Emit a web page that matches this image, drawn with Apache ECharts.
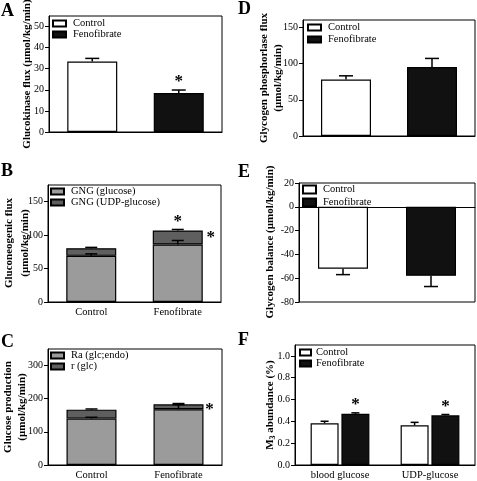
<!DOCTYPE html>
<html><head><meta charset="utf-8">
<script src="https://cdn.jsdelivr.net/npm/echarts@6/dist/echarts.min.js"></script>
<style>html,body{margin:0;padding:0;background:#fff}#c{width:477px;height:481px}</style>
</head><body><div id="c"></div>
<script>
// ---------- DATA ----------
const groups = ['Control', 'Fenofibrate'];
// A: glucokinase flux
const gkMean = [33.4, 18.5];
const gkErr = [1.5, 1.4];
const yTicksA = [0, 10, 20, 30, 40, 50];
// B: gluconeogenic flux (stacked)
const gngGlucose = [69, 86];
const gngGlucoseErr = [3, 6];
const gngUdp = [11.5, 21];
const gngUdpErr = [1.2, 1.5];
const yTicksB = [0, 50, 100, 150];
// C: glucose production (stacked)
const raEndo = [140, 168];
const raEndoErr = [4, 14];
const rGlc = [27, 15];
const rGlcErr = [2, 2.5];
const yTicksC = [0, 100, 200, 300];
// D: glycogen phosphorylase flux
const gpMean = [78, 95];
const gpErr = [5, 12];
const yTicksD = [0, 50, 100, 150];
// E: glycogen balance
const gbMean = [-52, -58];
const gbErr = [-5, -9];
const yTicksE = [-80, -60, -40, -20, 0, 20];
// F: M3 abundance
const fCats = ['blood glucose', 'UDP-glucose'];
const m3Control = [0.383, 0.364];
const m3ControlErr = [0.018, 0.027];
const m3Feno = [0.470, 0.455];
const m3FenoErr = [0.008, 0.008];
const yTicksF = [0, 0.2, 0.4, 0.6, 0.8, 1.0];
// significance stars [category index, value]
const starsA = [[1, 20]];
const starsBTop = [[1, 108.5]];
const starsBSide = [[1, 96]];
const starsCSide = [[1, 168]];
const starsF = [[0, 0.478], [1, 0.463]];

// ---------- STYLE / HELPERS ----------
const FONT = 'Liberation Serif';
const WHITE = '#ffffff', BLACK = '#111111', LGRAY = '#9b9b9b', DGRAY = '#5f5f5f';

function pick(arr, i) { return arr.map((v, k) => k === i ? v : '-'); }

function errRender(capHalf, dx) {
  return function (params, api) {
    const c = api.value(0), v = api.value(1), e = api.value(2);
    const p0 = api.coord([c, v]);
    const p1 = api.coord([c, v + e]);
    const x = p0[0] + dx;
    const st = { stroke: '#000', lineWidth: 1.5 };
    return { type: 'group', children: [
      { type: 'line', shape: { x1: x, y1: p0[1], x2: x, y2: p1[1] }, style: st },
      { type: 'line', shape: { x1: x - capHalf, y1: p1[1], x2: x + capHalf, y2: p1[1] }, style: st }
    ] };
  };
}
function errSeries(idx, base, err, capHalf, dx) {
  return { type: 'custom', xAxisIndex: idx, yAxisIndex: idx, clip: false, z: 5, silent: true,
    renderItem: errRender(capHalf, dx || 0),
    encode: { x: 0, y: 1 },
    data: base.map((v, i) => [i, v, err[i]]) };
}
function starSeries(idx, pts, dx, dy) {
  return { type: 'custom', xAxisIndex: idx, yAxisIndex: idx, clip: false, z: 6, silent: true,
    encode: { x: 0, y: 1 },
    renderItem: function (params, api) {
      const p = api.coord([api.value(0), api.value(1)]);
      return { type: 'text', x: p[0] + dx, y: p[1] + dy,
        style: { text: '*', font: 'bold 17px ' + FONT, fill: '#000', textAlign: 'center', textVerticalAlign: 'middle' } };
    },
    data: pts };
}
function sumArr(a, b) { return a.map((v, i) => v + b[i]); }

const grids = [
  { left: 49, top: 16, width: 173, height: 116 },
  { left: 48, top: 185, width: 173, height: 117 },
  { left: 48, top: 349, width: 174, height: 116 },
  { left: 303, top: 20, width: 172, height: 116 },
  { left: 299, top: 183, width: 176, height: 119 },
  { left: 295, top: 345, width: 180, height: 121 }
].map(g => Object.assign({ show: true, borderColor: '#000', borderWidth: 1, backgroundColor: 'transparent', containLabel: false }, g));

function xAx(idx, cats, showLabels) {
  return { type: 'category', gridIndex: idx, data: cats,
    axisLine: { show: true, lineStyle: { color: '#000', width: 1 } },
    axisTick: { show: false },
    axisLabel: { show: showLabels, color: '#000', fontFamily: FONT, fontSize: 10.5, margin: 5 } };
}
function yAx(idx, min, max, ticks, fmt) {
  return { type: 'value', gridIndex: idx, min: min, max: max,
    splitLine: { show: false },
    axisLine: { show: true, lineStyle: { color: '#000', width: 1 } },
    axisTick: { show: true, length: 4, inside: false, customValues: ticks, lineStyle: { color: '#000' } },
    axisLabel: { color: '#000', fontFamily: FONT, fontSize: 10, margin: 5, customValues: ticks,
      formatter: fmt || (v => String(v)) } };
}

const barBase = { type: 'bar', barWidth: 50, barGap: '-100%' };
const bStyle = c => ({ color: c, borderColor: '#000', borderWidth: 1.2 });

const legendBase = { orient: 'vertical', padding: 0, itemWidth: 13, itemHeight: 6, itemGap: 0,
  textStyle: { fontFamily: FONT, fontSize: 10.5, color: '#000', lineHeight: 10, padding: [0, 0, 0, 2] },
  icon: 'rect', selectedMode: false };

// axis titles (rotated) : [text, centerX, centerY]
const NAMEFONT = 'bold 11px ' + FONT;
const axisTitles = [
  ['Glucokinase flux (\u03bcmol/kg/min)', 27, 74],
  ['Gluconeogenic flux', 9, 243], ['(\u03bcmol/kg/min)', 25.5, 243],
  ['Glucose production', 8, 407], ['(\u03bcmol/kg/min)', 22.5, 407],
  ['Glycogen phosphorlase flux', 264.5, 78], ['(\u03bcmol/kg/min)', 278.5, 78],
  ['Glycogen balance (\u03bcmol/kg/min)', 270, 242]
];

const option = {
  animation: false,
  backgroundColor: '#fff',
  grid: grids,
  xAxis: [
    xAx(0, groups, false), xAx(1, groups, true), xAx(2, groups, true),
    xAx(3, groups, false), xAx(4, groups, false), xAx(5, fCats, true)
  ],
  yAxis: [
    yAx(0, 0, 55, yTicksA),
    yAx(1, 0, 175, yTicksB),
    yAx(2, 0, 350, yTicksC),
    yAx(3, 0, 160, yTicksD),
    yAx(4, -80, 20, yTicksE),
    yAx(5, 0, 1.1, yTicksF, v => v.toFixed(1))
  ],
  legend: [
    Object.assign({}, legendBase, { left: 52, top: 18, data: ['Control', 'Fenofibrate'] }),
    Object.assign({}, legendBase, { left: 50, top: 186, data: ['GNG (glucose)', 'GNG (UDP-glucose)'] }),
    Object.assign({}, legendBase, { left: 50, top: 350, data: ['Ra (glc;endo)', 'r (glc)'] }),
    Object.assign({}, legendBase, { left: 307, top: 22, itemGap: 1, data: ['Control', 'Fenofibrate'] }),
    Object.assign({}, legendBase, { left: 302, top: 184, itemHeight: 8, itemGap: 2, data: ['Control', 'Fenofibrate'] }),
    Object.assign({}, legendBase, { left: 299, top: 347, itemWidth: 11, textStyle: Object.assign({}, legendBase.textStyle, { padding: [0, 0, 0, 0] }), data: ['Control', 'Fenofibrate'] })
  ],
  graphic: [
    ['A', 1, 2], ['B', 1, 162], ['C', 1, 333], ['D', 238, 0], ['E', 238, 163], ['F', 238, 331]
  ].map(t => ({ type: 'text', left: t[1], top: t[2],
    style: { text: t[0], font: 'bold 18px ' + FONT, fill: '#000' } }))
  .concat(axisTitles.map(t => ({ type: 'text', x: t[1], y: t[2], rotation: Math.PI / 2,
    style: { text: t[0], font: NAMEFONT, fill: '#000', textAlign: 'center', textVerticalAlign: 'middle' } })))
  .concat([{ type: 'text', x: 270, y: 405, rotation: Math.PI / 2,
    style: { text: '{m|M}{s|3}{m| abundance (%)}', fill: '#000', textAlign: 'center', textVerticalAlign: 'middle',
      rich: { m: { font: NAMEFONT, lineHeight: 14 },
              s: { font: 'bold 8px ' + FONT, lineHeight: 14, verticalAlign: 'bottom', padding: [5, 0, 0, 0] } } } }]),
  series: [
    // A
    Object.assign({}, barBase, { name: 'Control', xAxisIndex: 0, yAxisIndex: 0, itemStyle: bStyle(WHITE), data: pick(gkMean, 0) }),
    Object.assign({}, barBase, { name: 'Fenofibrate', xAxisIndex: 0, yAxisIndex: 0, itemStyle: bStyle(BLACK), data: pick(gkMean, 1) }),
    errSeries(0, gkMean, gkErr, 7),
    starSeries(0, starsA, 0, -8),
    // B
    Object.assign({}, barBase, { name: 'GNG (glucose)', stack: 'b', xAxisIndex: 1, yAxisIndex: 1, itemStyle: bStyle(LGRAY), data: gngGlucose }),
    Object.assign({}, barBase, { name: 'GNG (UDP-glucose)', stack: 'b', xAxisIndex: 1, yAxisIndex: 1, itemStyle: bStyle(DGRAY), data: gngUdp }),
    errSeries(1, gngGlucose, gngGlucoseErr, 6),
    errSeries(1, sumArr(gngGlucose, gngUdp), gngUdpErr, 6),
    starSeries(1, starsBTop, 0, -8),
    starSeries(1, starsBSide, 33, 0),
    // C
    Object.assign({}, barBase, { name: 'Ra (glc;endo)', stack: 'c', xAxisIndex: 2, yAxisIndex: 2, itemStyle: bStyle(LGRAY), data: raEndo }),
    Object.assign({}, barBase, { name: 'r (glc)', stack: 'c', xAxisIndex: 2, yAxisIndex: 2, itemStyle: bStyle(DGRAY), data: rGlc }),
    errSeries(2, raEndo, raEndoErr, 6),
    errSeries(2, sumArr(raEndo, rGlc), rGlcErr, 6),
    starSeries(2, starsCSide, 31, 0),
    // D
    Object.assign({}, barBase, { name: 'Control', xAxisIndex: 3, yAxisIndex: 3, itemStyle: bStyle(WHITE), data: pick(gpMean, 0) }),
    Object.assign({}, barBase, { name: 'Fenofibrate', xAxisIndex: 3, yAxisIndex: 3, itemStyle: bStyle(BLACK), data: pick(gpMean, 1) }),
    errSeries(3, gpMean, gpErr, 7),
    // E
    Object.assign({}, barBase, { name: 'Control', xAxisIndex: 4, yAxisIndex: 4, itemStyle: bStyle(WHITE), data: pick(gbMean, 0) }),
    Object.assign({}, barBase, { name: 'Fenofibrate', xAxisIndex: 4, yAxisIndex: 4, itemStyle: bStyle(BLACK), data: pick(gbMean, 1) }),
    errSeries(4, gbMean, gbErr, 7),
    // F
    { type: 'bar', name: 'Control', xAxisIndex: 5, yAxisIndex: 5, barWidth: 28, barGap: '10%', itemStyle: bStyle(WHITE), data: m3Control },
    { type: 'bar', name: 'Fenofibrate', xAxisIndex: 5, yAxisIndex: 5, barWidth: 28, barGap: '10%', itemStyle: bStyle(BLACK), data: m3Feno },
    errSeries(5, m3Control, m3ControlErr, 4, -15.4),
    errSeries(5, m3Feno, m3FenoErr, 4, 15.4),
    starSeries(5, starsF, 15.4, -8)
  ]
};

const chart = echarts.init(document.getElementById('c'), null, { renderer: 'canvas' });
chart.setOption(option);
</script>
</body></html>
